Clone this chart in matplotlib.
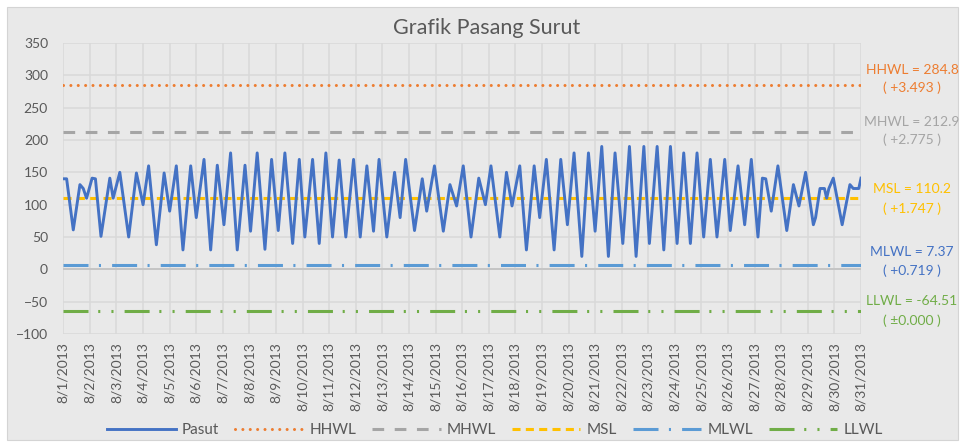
import matplotlib.pyplot as plt
from matplotlib.patches import Rectangle

plt.rcParams['font.family'] = ['Lato', 'DejaVu Sans']
plt.rcParams['lines.scale_dashes'] = False

# tide readings (hours since 8/1/2013 00:00, water level)
pasut_hour = [0, 3, 9, 15, 18, 21, 26, 29, 34, 42,
              45, 51, 59, 66, 72, 77, 84, 91, 96, 102,
              108, 115, 120, 127, 133, 139, 145, 151, 157, 164,
              169, 175, 182, 188, 194, 200, 207, 213, 218, 225,
              231, 237, 243, 249, 255, 262, 268, 274, 280, 285,
              292, 299, 304, 309, 317, 324, 328, 335, 343, 349,
              355, 361, 368, 375, 381, 386, 394, 400, 405, 412,
              418, 425, 430, 436, 443, 449, 455, 461, 468, 474,
              480, 486, 492, 498, 505, 511, 517, 524, 529, 536,
              542, 548, 554, 560, 566, 572, 578, 584, 590, 597,
              602, 609, 615, 621, 627, 631, 634, 639, 645, 653,
              659, 664, 670, 677, 679, 683, 687, 689, 691, 695,
              703, 710, 713, 718, 720]
pasut_value = [140, 140, 61, 131, 125, 110, 141, 140, 51, 141,
               110, 150, 50, 149, 100, 160, 38, 149, 90, 160,
               30, 160, 80, 170, 30, 161, 69, 180, 30, 161,
               59, 180, 31, 170, 60, 180, 40, 170, 50, 170,
               40, 180, 50, 169, 50, 170, 50, 160, 59, 170,
               50, 150, 80, 170, 60, 140, 90, 160, 59, 131,
               98, 160, 50, 141, 100, 160, 50, 150, 98, 160,
               30, 160, 80, 170, 30, 170, 69, 180, 20, 180,
               59, 190, 20, 180, 40, 190, 20, 190, 40, 190,
               30, 190, 40, 180, 40, 180, 50, 170, 50, 170,
               60, 160, 69, 170, 50, 141, 140, 90, 160, 60,
               131, 98, 150, 69, 80, 125, 125, 110, 125, 141,
               69, 131, 125, 125, 141]

day_labels = ['8/%d/2013' % d for d in range(1, 32)]

level_names = ['HHWL', 'MHWL', 'MSL', 'MLWL', 'LLWL']
level_values = [284.8, 212.9, 110.2, 7.37, -64.51]
level_text = ['HHWL = 284.8', 'MHWL = 212.9', 'MSL = 110.2', 'MLWL = 7.37', 'LLWL = -64.51']
level_sub = ['( +3.493 )', '( +2.775 )', '( +1.747 )', '( +0.719 )', '( \u00b10.000 )']

line_colors = ['#ED7D31', '#A5A5A5', '#FFC000', '#5B9BD5', '#70AD47']
text_colors = ['#ED7D31', '#A5A5A5', '#FFC000', '#4472C4', '#70AD47']
line_styles = [(0, (0.01, 5.3)), (0, (8.4, 7.6)), (0, (5.8, 3.8)),
               (0, (18, 7.5, 1.5, 8)), (0, (18, 7, 1.5, 8, 1.5, 8))]
caps = ['round', 'butt', 'butt', 'butt', 'butt']

W, H = 964, 444
fig = plt.figure(figsize=(W / 100, H / 100), dpi=100)
fig.patch.set_facecolor('white')
fig.patches.append(Rectangle((7 / W, 4 / H), 951 / W, 433 / H, transform=fig.transFigure,
                             facecolor='#E9E9E9', edgecolor='#D4D4D4', lw=0.8, zorder=-10))

ax = fig.add_axes([63.3 / W, 1 - 334 / H, (861 - 63.3) / W, (334 - 43) / H])
ax.set_facecolor('#E9E9E9')

ax.plot(pasut_hour, pasut_value, color='#4472C4', lw=2.1, label='Pasut', zorder=5)
for i in range(5):
    ax.plot([0, 720], [level_values[i]] * 2, color=line_colors[i], lw=2.2,
            linestyle=line_styles[i], dash_capstyle=caps[i], label=level_names[i], zorder=4)

ax.set_xlim(0, 720)
ax.set_ylim(-100, 350)
ax.set_xticks(range(0, 721, 24))
ax.set_xticklabels(day_labels, rotation=90)
ax.set_yticks(range(-100, 351, 50))
ax.grid(True, color='#D9D9D9', lw=1.1, zorder=0)
ax.set_axisbelow(True)
ax.axhline(0, color='#BFBFBF', lw=1.1, zorder=1)
for s in ax.spines.values():
    s.set_visible(False)
ax.tick_params(length=0, labelsize=10, labelcolor='#595959')
ax.tick_params(axis='y', pad=11)
ax.tick_params(axis='x', pad=6)

fig.text(487 / W, 1 - 28 / H, 'Grafik Pasang Surut', ha='center', va='center',
         fontsize=15.5, color='#595959')

ys = [(70, 88), (122, 140), (189, 209), (252, 271), (301, 321)]
for i in range(5):
    fig.text(912 / W, 1 - ys[i][0] / H, level_text[i], ha='center', va='center',
             fontsize=10, color=text_colors[i])
    fig.text(912 / W, 1 - ys[i][1] / H, level_sub[i], ha='center', va='center',
             fontsize=10, color=text_colors[i])

fig.legend(loc='center', bbox_to_anchor=(495 / W, 1 - 430 / H), ncol=6, frameon=False,
           fontsize=11, handlelength=4.5, handletextpad=0.42, columnspacing=1.0,
           labelcolor='#595959')

fig.savefig('out.png', dpi=100, facecolor='white')
